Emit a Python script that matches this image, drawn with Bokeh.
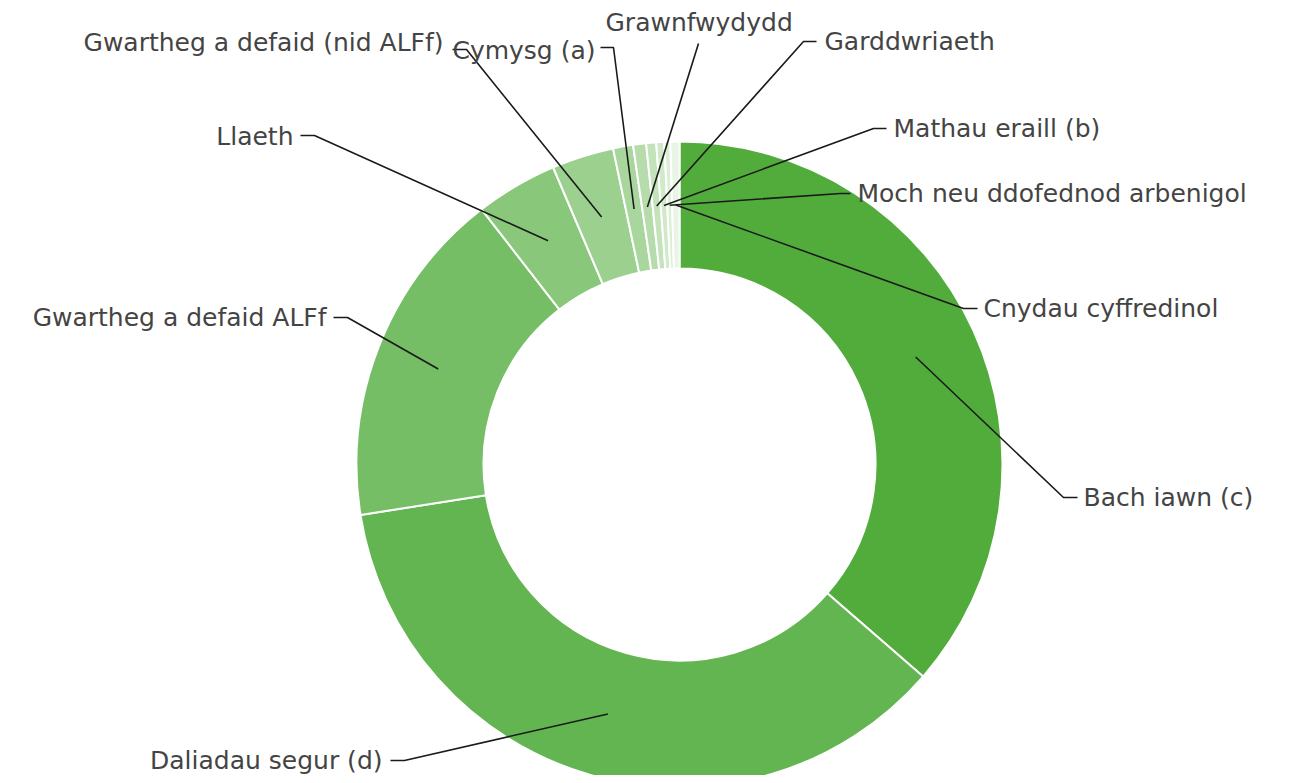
import math
from bokeh.plotting import figure
from bokeh.models import Range1d, ColumnDataSource
from bokeh.core.properties import value
from bokeh.embed import file_html
from bokeh.resources import INLINE

# ---- data (share of holdings, %) ----
categories = [
    "Bach iawn (c)",
    "Daliadau segur (d)",
    "Gwartheg a defaid ALFf",
    "Llaeth",
    "Gwartheg a defaid (nid ALFf)",
    "Cymysg (a)",
    "Grawnfwydydd",
    "Garddwriaeth",
    "Mathau eraill (b)",
    "Moch neu ddofednod arbenigol",
    "Cnydau cyffredinol",
]
shares = [36.4, 36.1, 17.0, 4.1, 3.1, 1.0, 0.65, 0.5, 0.4, 0.3, 0.45]

# ---- style ----
colors = ["#51ac3b", "#63b552", "#76be66", "#89c77b", "#9bd08f",
          "#a8d69d", "#b6dcab", "#c3e3ba", "#d0e9c8", "#dcefd6", "#e8f5e4"]
FONT = "DejaVu Sans"
FS = "25px"
TXT = "#444444"

W, H = 1283, 775
CX, CY = 679, -464          # centre in page-pixel units (y up)
R_OUT, R_IN = 323, 196
R_MID = (R_OUT + R_IN) / 2

# label layout: text x, text y, align, connector start x, connector bend x, connector y
label_layout = {
    "Bach iawn (c)": (1083, 497, "left", 1077, 1063, 497),
    "Daliadau segur (d)": (382, 760, "right", 390, 404, 760),
    "Gwartheg a defaid ALFf": (326, 317, "right", 333, 347, 317),
    "Llaeth": (293, 136, "right", 300, 314, 135),
    "Gwartheg a defaid (nid ALFf)": (443, 42, "right", 452, 466, 49),
    "Cymysg (a)": (595, 50, "right", 600, 613, 47),
    "Grawnfwydydd": (605, 22, "left", 698, 698, 43),
    "Garddwriaeth": (824, 41, "left", 816, 803, 41),
    "Mathau eraill (b)": (893, 128, "left", 886, 873, 128),
    "Moch neu ddofednod arbenigol": (857, 193, "left", 850, 840, 193),
    "Cnydau cyffredinol": (983, 308, "left", 977, 963, 308),
}

total = sum(shares)
starts, ends, mids = [], [], []
acc = 0.0
for v in shares:
    a0 = acc / total * 360.0
    acc += v
    a1 = acc / total * 360.0
    starts.append(math.radians(90 - a0))
    ends.append(math.radians(90 - a1))
    mids.append((a0 + a1) / 2)

p = figure(width=W, height=H, output_backend="svg", toolbar_location=None,
           x_range=Range1d(0, W), y_range=Range1d(-H, 0),
           x_axis_type=None, y_axis_type=None, min_border=0,
           outline_line_color=None, background_fill_color="white",
           border_fill_color="white")
p.grid.visible = False

src = ColumnDataSource(dict(start=starts, end=ends, color=colors, name=categories))
p.annular_wedge(x=CX, y=CY, inner_radius=R_IN, outer_radius=R_OUT,
                start_angle="start", end_angle="end", direction="clock",
                fill_color="color", line_color="white", line_width=2, source=src)

xs, ys = [], []
tx, ty, ta = [], [], []
for name, m in zip(categories, mids):
    px = CX + R_MID * math.sin(math.radians(m))
    py = CY + R_MID * math.cos(math.radians(m))
    t_x, t_y, al, c0, c1, cy = label_layout[name]
    xs.append([c0, c1, px])
    ys.append([-cy, -cy, py])
    tx.append(t_x)
    ty.append(-t_y)
    ta.append(al)

p.multi_line(xs=xs, ys=ys, line_color="#1a1a1a", line_width=1.6)

lab = ColumnDataSource(dict(x=tx, y=ty, text=categories, align=ta))
p.text(x="x", y="y", text="text", text_align="align", text_baseline="middle",
       text_font=value(FONT), text_font_size=FS, text_color=TXT, source=lab)

open("out.html", "w").write(file_html(p, INLINE))
